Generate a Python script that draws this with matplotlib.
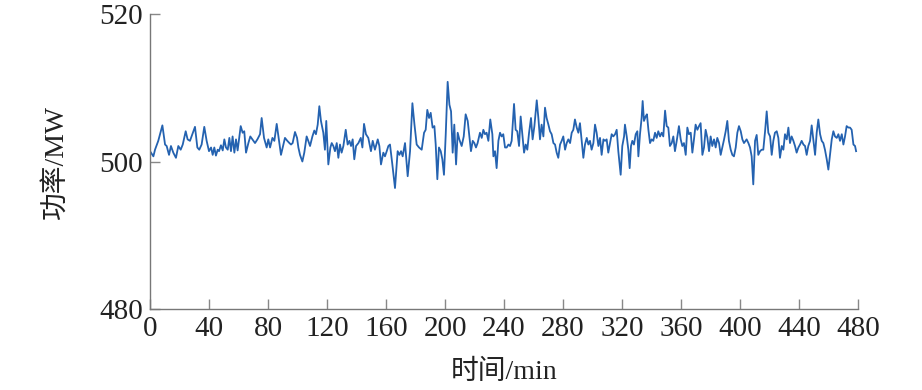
import matplotlib
matplotlib.use("Agg")
import matplotlib.pyplot as plt

# --- data ---
time_min = [
    0, 2.3, 3.4, 5.6, 8.4, 10.2, 11.3, 12.9, 14.2, 15.8, 17.6, 19.2, 20.8, 22.2, 24.2, 25.5, 27.1, 28.7, 30.5,
    32.1, 33.4, 35.0, 36.8, 38.4, 40.0, 41.4, 42.5, 43.6, 44.7, 45.9, 46.8, 48.1, 49.3, 50.4, 51.5, 52.7, 53.8,
    54.9, 56.0, 57.2, 58.3, 59.4, 61.5, 62.8, 63.9, 65.1, 66.7, 68.0, 69.4, 71.2, 72.8, 74.6, 75.7, 77.3,
    79.1, 80.2, 81.4, 83.0, 84.3, 85.9, 87.5, 88.8, 90.4, 91.5, 93.1, 94.5, 95.6, 96.7, 98.3, 99.7, 100.6, 101.7,
    103.3, 104.6, 106.2, 107.3, 108.5, 110.1, 111.4, 112.5, 113.7, 114.8, 115.9, 117.5, 118.6, 119.5, 120.9,
    122.3, 123.2, 124.3, 125.4, 126.6, 127.7, 128.8, 129.9, 131.1, 132.7, 134.0, 135.2, 136.3, 137.4, 138.5,
    139.7, 141.3, 142.9, 144.0, 145.1, 146.4, 148.0, 149.8, 151.0, 152.5, 154.4, 155.5, 156.6, 158.2,
    159.3, 160.5, 161.6, 162.7, 164.3, 166.1, 167.9, 169.1, 170.2, 171.3, 172.9, 174.7, 176.3, 177.9, 179.3,
    180.8, 182.4, 184.2, 185.8, 186.9, 188.0, 189.2, 190.3, 191.6, 192.8, 193.7, 194.8, 195.9, 197.1, 198.2,
    199.3, 200.5, 201.8, 203.0, 204.1, 205.2, 206.3, 207.5, 208.6, 209.7, 211.3, 212.7, 214.0, 215.4, 216.5,
    217.6, 218.8, 219.9, 221.0, 222.1, 223.7, 224.9, 226.0, 227.1, 228.2, 229.4, 230.7, 232.1, 232.8, 233.9,
    235.0, 236.2, 237.3, 238.4, 239.5, 240.7,
    241.8, 243.0, 244.1, 245.2, 246.8, 247.9, 249.0, 250.2, 251.3, 252.4, 253.6, 254.7, 255.8, 257.0, 258.3,
    259.4, 260.6, 262.2, 263.3, 264.4, 265.5, 266.7, 267.8, 268.9, 270.1, 271.2, 272.3, 273.5, 274.6, 275.7,
    276.8, 278.0, 279.1, 280.2, 281.4, 282.5, 283.6, 284.8, 285.9, 287.0, 288.1, 289.3, 290.4, 291.5, 292.7,
    293.8, 294.9, 296.1, 297.2, 298.3, 299.4, 300.6, 301.7, 302.8, 304.0, 305.1, 306.2, 307.4, 308.5, 309.6,
    310.7, 311.9, 313.0, 314.1, 315.3, 316.4, 317.5, 319.1, 320.2, 321.4,
    322.0, 323.2, 324.3, 325.2, 326.1, 327.0, 328.1, 329.3, 330.4, 331.1, 332.2, 333.3, 334.0, 334.9, 336.0,
    336.9, 337.9, 339.0, 340.1, 341.2, 342.4, 343.5, 344.6, 345.8, 346.9, 348.0, 349.2, 350.3, 351.4, 352.5,
    353.7, 354.8, 355.9, 357.1, 358.6, 359.8, 360.9, 362.0, 363.2, 364.3, 365.4, 366.6, 367.7, 368.8, 369.9,
    371.1, 372.2, 373.3, 374.5, 375.6, 376.7, 377.9, 379.0, 380.1, 381.2, 382.4, 383.5, 384.6, 385.8, 386.9,
    388.0, 389.2, 390.3, 391.4, 392.5, 393.7, 394.8, 395.9, 397.1, 398.2, 399.3, 400.5, 401.6, 402.7,
    404.5, 405.7, 406.8, 407.9, 409.0, 410.2, 411.3, 412.4, 413.6, 414.7, 415.8, 417.0, 418.1, 419.2, 420.4,
    421.5, 422.6, 423.7, 424.9, 426.0, 427.1, 428.3, 429.4, 430.5, 431.7, 432.8, 433.9, 435.0, 436.2, 437.3,
    438.4, 439.6, 440.7, 441.8, 443.0, 444.1, 445.2, 446.3, 447.5, 448.6, 449.7, 450.9, 452.0, 453.1, 454.3,
    455.4, 456.5, 457.6, 458.8, 459.9, 461.0, 462.2, 463.3, 464.4, 465.6, 466.7, 467.8, 469.0, 470.1, 471.2,
    472.3, 473.5, 474.6, 475.7, 476.9, 478.0, 478.7,
]
power_mw = [
    501.4, 500.7, 501.6, 502.8, 504.9, 502.3, 502.1, 500.9, 502.1, 501.2, 500.5, 502.1, 501.6, 502.3, 504.1, 503.0, 502.8, 503.7, 504.7,
    501.9, 501.6, 502.3, 504.7, 502.8, 501.4, 501.9, 500.9, 501.9, 500.8, 501.6, 501.4, 502.2, 501.5, 503.0, 501.9, 501.6, 503.2,
    501.4, 503.4, 501.2, 503.0, 501.5, 504.8, 503.9, 504.1, 501.2, 502.5, 503.4, 503.0, 502.5, 503.0, 503.7, 505.9, 503.2,
    501.9, 503.0, 501.9, 503.2, 502.8, 505.1, 502.8, 500.9, 502.3, 503.2, 502.8, 502.5, 502.3, 502.5, 504.0, 503.2, 501.9, 500.9,
    500.0, 501.2, 503.4, 502.8, 502.1, 503.4, 504.2, 503.7, 505.0, 507.5, 505.5, 503.9, 501.6, 505.5, 499.6,
    501.9, 502.5, 502.1, 501.4, 502.5, 500.5, 502.3, 501.2, 502.1, 504.3, 502.3, 502.8, 502.1, 503.0, 500.3,
    502.1, 502.5, 503.2, 501.9, 505.1, 503.7, 503.2, 501.4, 502.8, 501.6, 503.0, 502.1, 499.6, 501.2,
    500.7, 501.4, 502.1, 502.3, 499.6, 496.4, 501.4, 500.9, 501.4, 500.7, 502.5, 498.0, 501.4, 507.9, 505.0,
    502.3, 501.9, 501.6, 503.9, 504.3, 507.0, 505.9, 506.6, 504.6, 504.8, 502.3, 497.6, 501.9, 501.4, 500.3,
    498.2, 503.7, 510.8, 507.7, 506.8, 501.2, 505.0, 499.6, 503.9, 503.0, 502.1, 503.4, 506.4, 505.5, 503.4,
    501.4, 502.8, 502.5, 501.9, 502.5, 503.9, 503.2, 504.3, 503.7, 503.9, 502.8, 505.7, 503.7, 500.7, 501.4,
    499.1, 502.8, 503.9, 503.4, 503.7, 501.9,
    501.9, 502.3, 502.1, 502.8, 507.8, 504.3, 504.1, 502.1, 506.1, 503.7, 501.2, 502.3, 501.6, 503.9, 505.9,
    503.0, 504.8, 508.3, 505.9, 503.0, 505.0, 503.4, 507.3, 505.9, 505.0, 504.1, 503.7, 502.5, 502.3, 501.2,
    500.5, 502.3, 502.8, 503.4, 501.6, 502.5, 503.0, 502.5, 503.9, 504.3, 505.7, 504.6, 503.9, 505.2, 502.8,
    500.5, 502.3, 503.2, 502.3, 502.8, 501.6, 502.5, 505.0, 503.9, 502.1, 503.2, 500.9, 503.0, 502.8, 503.0,
    501.2, 502.5, 503.7, 503.4, 503.7, 504.3, 501.4, 498.2, 502.1, 503.4,
    505.0, 503.4, 501.6, 499.1, 502.1, 502.8, 502.3, 503.7, 504.1, 500.7, 503.7, 505.9, 508.2, 505.5, 506.1,
    506.4, 504.3, 502.5, 503.0, 502.8, 503.9, 503.2, 504.1, 503.4, 503.9, 503.4, 506.9, 504.8, 504.6, 502.1,
    502.5, 503.4, 501.4, 502.8, 504.8, 503.0, 502.1, 502.5, 500.9, 504.6, 503.7, 503.9, 501.2, 503.0, 505.0,
    504.3, 504.8, 505.2, 500.9, 501.9, 504.3, 503.2, 501.4, 503.4, 502.1, 503.0, 501.9, 503.2, 502.5, 500.9,
    501.9, 503.0, 504.1, 505.5, 502.8, 501.6, 500.9, 500.7, 501.9, 503.9, 504.8, 504.1, 503.0, 502.5,
    503.0, 502.5, 501.9, 500.7, 496.9, 502.8, 503.6, 500.9, 501.4, 501.6, 501.6, 504.1, 506.8, 503.9, 503.4,
    500.9, 502.8, 503.9, 504.1, 503.2, 500.5, 502.1, 501.6, 503.7, 503.0, 504.6, 502.5, 503.4, 502.8, 502.1,
    501.2, 501.9, 502.3, 502.8, 502.3, 502.1, 500.9, 502.1, 502.8, 504.9, 503.0, 500.9, 503.9, 505.7, 503.7,
    502.8, 502.5, 501.6, 500.3, 498.9, 500.9, 503.0, 504.1, 503.4, 503.2, 503.7, 502.8, 503.7, 502.3, 503.4,
    504.8, 504.6, 504.6, 504.3, 502.3, 502.1, 501.4,
]
x_ticks = [0, 40, 80, 120, 160, 200, 240, 280, 320, 360, 400, 440, 480]
y_ticks = [480, 500, 520]
x_label = "时间/min"
y_label = "功率/MW"

fonts = ["Liberation Serif", "Noto Sans CJK SC", "DejaVu Sans"]
plt.rcParams["font.family"] = fonts

fig = plt.figure(figsize=(9.22, 3.90), dpi=100)
ax = fig.add_axes([150 / 922, (390 - 309) / 390, 708 / 922, 295 / 390])

ax.plot(time_min, power_mw, color="#2462b0", linewidth=1.3)

ax.set_xlim(0, 480)
ax.set_ylim(480, 520)
ax.set_xticks(x_ticks)
ax.set_yticks(y_ticks)

for side in ("top", "right"):
    ax.spines[side].set_visible(False)
for side in ("left", "bottom"):
    ax.spines[side].set_color("#777777")
    ax.spines[side].set_linewidth(1.0)

ax.tick_params(direction="in", length=7, width=1.0, color="#888888",
               labelsize=21, labelcolor="#222222")
ax.tick_params(axis="y", pad=5)
ax.tick_params(axis="x", pad=5)

ax.set_xlabel(x_label, fontsize=20, color="#222222", labelpad=13)
ax.set_ylabel(y_label, fontsize=20, color="#222222", labelpad=22)

fig.savefig("out.png", dpi=100)
